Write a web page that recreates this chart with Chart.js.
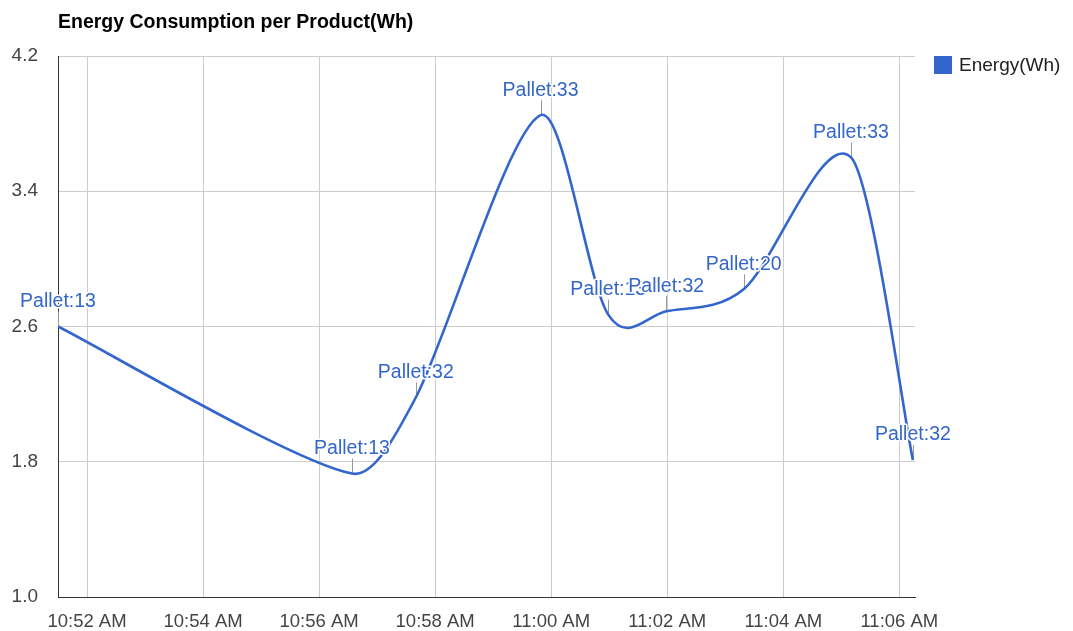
<!DOCTYPE html>
<html>
<head>
<meta charset="utf-8">
<script src="https://cdn.jsdelivr.net/npm/chart.js@4/dist/chart.umd.min.js"></script>
<style>
  html, body { margin: 0; padding: 0; background: #fff; }
  #wrap { width: 1073px; height: 631px; }
</style>
</head>
<body>
<div id="wrap"><canvas id="c" width="1073" height="631"></canvas></div>
<script>
// Sample times (hh:mm:ss), energy per product and the pallet tag of each sample
const times = ['10:51:30', '10:56:34', '10:57:40', '10:59:49', '11:00:59', '11:01:59', '11:03:19', '11:05:10', '11:06:14'];
const energy = [2.6, 1.73, 2.18, 3.85, 2.67, 2.69, 2.82, 3.60, 1.81];
const pallets = ['Pallet:13', 'Pallet:13', 'Pallet:32', 'Pallet:33', 'Pallet:13', 'Pallet:32', 'Pallet:20', 'Pallet:33', 'Pallet:32'];

// Axis ticks
const timeTicks = ['10:52', '10:54', '10:56', '10:58', '11:00', '11:02', '11:04', '11:06'];
const energyTicks = [1.0, 1.8, 2.6, 3.4, 4.2];

const TITLE = 'Energy Consumption per Product(Wh)';
const SERIES = 'Energy(Wh)';
const BLUE = '#3366cc';
const FONT = '"Liberation Sans", Arial, sans-serif';

// minutes after 10:00
function toMin(s) {
  const p = s.split(':').map(Number);
  return (p[0] - 10) * 60 + p[1] + (p[2] || 0) / 60;
}
function fmtMin(m) {
  const h = 10 + Math.floor(m / 60);
  const mm = Math.round(m % 60);
  return h + ':' + String(mm).padStart(2, '0') + ' AM';
}

const points = times.map((t, i) => ({ x: toMin(t), y: energy[i] }));
const tickVals = timeTicks.map(toMin);

// Catmull-Rom smoothing on the scaled points; each handle is kept within a third
// of its segment's width so the curve never folds back in x.
const catmullRom = {
  id: 'catmullRom',
  beforeDatasetDraw(chart, args) {
    const meta = args.meta;
    meta.dataset.updateControlPoints(chart.chartArea, 'x');
    const pts = meta.data;
    const n = pts.length;
    for (let i = 0; i < n; i++) {
      const prev = pts[Math.max(i - 1, 0)];
      const next = pts[Math.min(i + 1, n - 1)];
      const cur = pts[i];
      const dx = (next.x - prev.x) / 6;
      const dy = (next.y - prev.y) / 6;
      const limL = (cur.x - prev.x) / 3;
      const limR = (next.x - cur.x) / 3;
      const sL = dx > limL && dx > 0 ? limL / dx : 1;
      const sR = dx > limR && dx > 0 ? limR / dx : 1;
      cur.cp1x = cur.x - dx * sL; cur.cp1y = cur.y - dy * sL;
      cur.cp2x = cur.x + dx * sR; cur.cp2y = cur.y + dy * sR;
    }
  }
};

const decorations = {
  id: 'decorations',
  beforeDatasetsDraw(chart) {
    // annotation stems
    const ctx = chart.ctx;
    const meta = chart.getDatasetMeta(0);
    ctx.save();
    ctx.strokeStyle = '#999999';
    ctx.lineWidth = 1;
    meta.data.forEach(pt => {
      const x = Math.round(pt.x) + 0.5;
      ctx.beginPath();
      ctx.moveTo(x, pt.y);
      ctx.lineTo(x, pt.y - 15);
      ctx.stroke();
    });
    ctx.restore();
  },
  afterDatasetsDraw(chart) {
    const ctx = chart.ctx;
    const meta = chart.getDatasetMeta(0);
    ctx.save();
    ctx.font = '19.5px ' + FONT;
    ctx.textAlign = 'center';
    ctx.textBaseline = 'middle';
    ctx.lineJoin = 'round';
    meta.data.forEach((pt, i) => {
      ctx.strokeStyle = '#ffffff';
      ctx.lineWidth = 3;
      ctx.strokeText(pallets[i], pt.x, pt.y - 25);
      ctx.fillStyle = BLUE;
      ctx.fillText(pallets[i], pt.x, pt.y - 25);
    });
    ctx.restore();
  },
  afterDraw(chart) {
    const ctx = chart.ctx;
    ctx.save();
    // title
    ctx.font = 'bold 19.5px ' + FONT;
    ctx.fillStyle = '#000000';
    ctx.textAlign = 'left';
    ctx.textBaseline = 'middle';
    ctx.fillText(TITLE, 58, 23);
    // legend
    ctx.fillStyle = BLUE;
    ctx.fillRect(934, 56, 18, 18);
    ctx.font = '19px ' + FONT;
    ctx.fillStyle = '#222222';
    ctx.fillText(SERIES, 959, 66);
    ctx.restore();
  }
};

new Chart(document.getElementById('c'), {
  type: 'line',
  data: {
    datasets: [{
      label: SERIES,
      data: points,
      borderColor: BLUE,
      backgroundColor: BLUE,
      borderWidth: 2.6,
      pointRadius: 0,
      pointHoverRadius: 0,
      tension: 0.4,
      fill: false
    }]
  },
  options: {
    responsive: false,
    animation: false,
    events: [],
    layout: { padding: { top: 56, right: 158, bottom: 0, left: 0 } },
    plugins: { legend: { display: false }, title: { display: false }, tooltip: { enabled: false } },
    scales: {
      x: {
        type: 'linear',
        min: toMin(times[0]),
        max: 66.27,
        afterBuildTicks: s => { s.ticks = tickVals.map(v => ({ value: v })); },
        afterFit: s => { s.height = 34; },
        grid: { color: '#cccccc', lineWidth: 1, drawTicks: false },
        border: { color: '#333333', width: 1 },
        ticks: {
          padding: 14,
          maxRotation: 0,
          autoSkip: false,
          color: '#444444',
          font: { family: FONT, size: 18.5 },
          callback: v => fmtMin(v)
        }
      },
      y: {
        min: energyTicks[0],
        max: energyTicks[energyTicks.length - 1],
        afterBuildTicks: s => { s.ticks = energyTicks.map(v => ({ value: v })); },
        afterFit: s => { s.width = 58; },
        grid: {
          color: c => (c.tick && c.tick.value === energyTicks[0]) ? 'rgba(0,0,0,0)' : '#cccccc',
          lineWidth: 1,
          drawTicks: false
        },
        border: { color: '#333333', width: 1 },
        ticks: {
          padding: 20,
          color: '#444444',
          font: { family: FONT, size: 19 },
          callback: v => Number(v).toFixed(1)
        }
      }
    }
  },
  plugins: [catmullRom, decorations]
});
</script>
</body>
</html>
